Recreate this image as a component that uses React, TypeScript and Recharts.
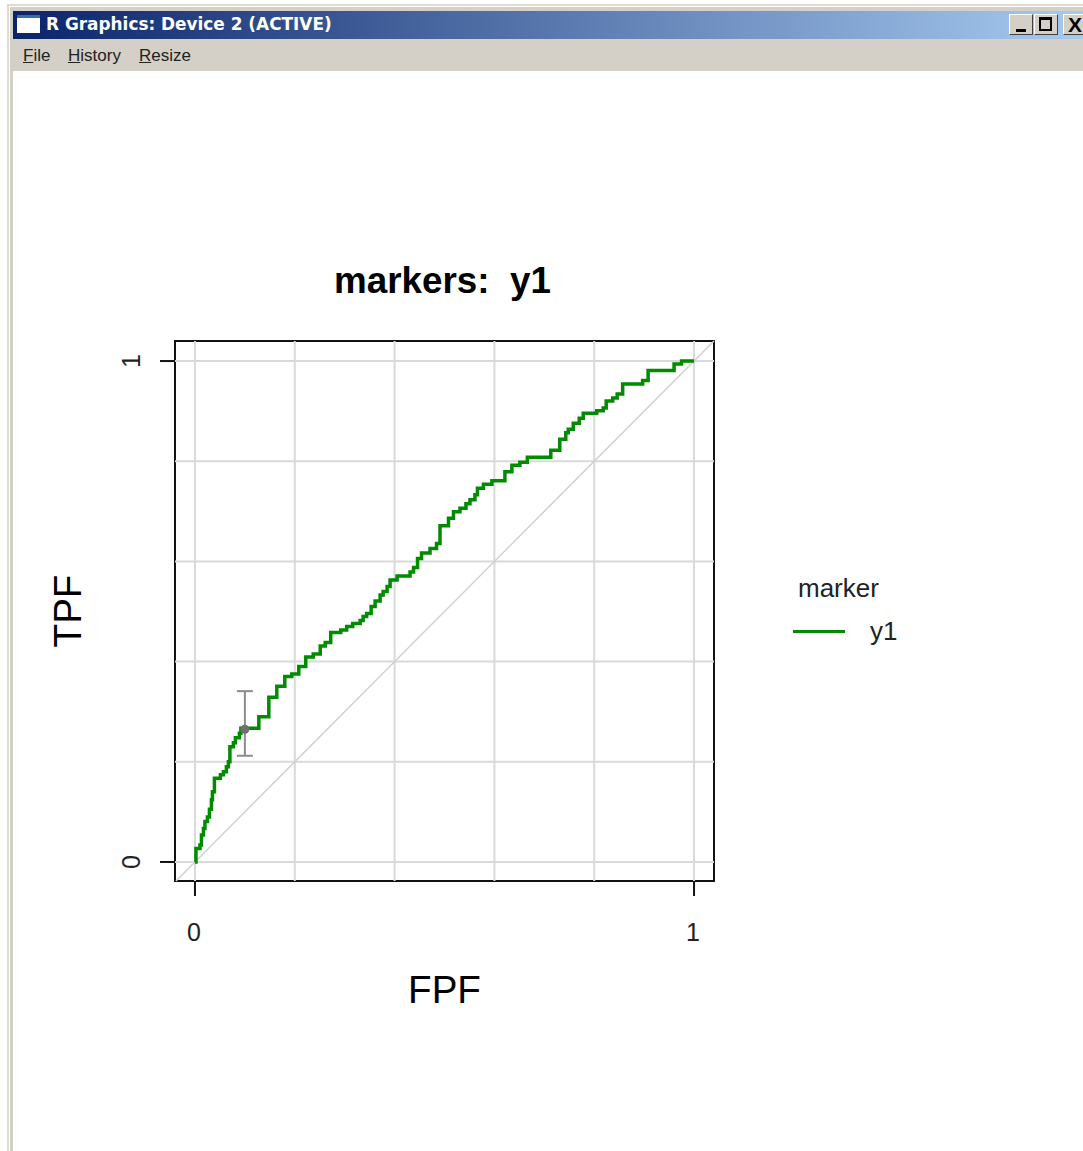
import {
  ComposedChart,
  ErrorBar,
  Label,
  Legend,
  Line,
  ReferenceArea,
  ReferenceLine,
  Scatter,
  XAxis,
  YAxis,
} from 'recharts';

const fpf = [
  0, 0.002, 0.01, 0.013, 0.017, 0.02, 0.025, 0.029, 0.033, 0.035, 0.039, 0.051, 0.057, 0.063,
  0.067, 0.07, 0.077, 0.081, 0.089, 0.092, 0.128, 0.148, 0.164, 0.18, 0.194, 0.208, 0.222, 0.237,
  0.251, 0.261, 0.272, 0.292, 0.304, 0.316, 0.331, 0.337, 0.344, 0.353, 0.361, 0.371, 0.377,
  0.385, 0.391, 0.405, 0.431, 0.438, 0.446, 0.454, 0.471, 0.484, 0.491, 0.508, 0.518, 0.531,
  0.543, 0.551, 0.561, 0.566, 0.578, 0.595, 0.621, 0.635, 0.651, 0.666, 0.713, 0.731, 0.743,
  0.748, 0.758, 0.77, 0.778, 0.805, 0.818, 0.824, 0.837, 0.846, 0.857, 0.897, 0.908, 0.96, 0.975,
  1,
];
const tpf = [
  0, 0.027, 0.034, 0.054, 0.067, 0.081, 0.09, 0.105, 0.124, 0.14, 0.167, 0.174, 0.18, 0.19, 0.2,
  0.23, 0.238, 0.248, 0.257, 0.267, 0.29, 0.329, 0.351, 0.37, 0.375, 0.39, 0.409, 0.415, 0.431,
  0.438, 0.458, 0.463, 0.47, 0.476, 0.482, 0.49, 0.496, 0.51, 0.521, 0.533, 0.54, 0.55, 0.563,
  0.571, 0.579, 0.588, 0.606, 0.617, 0.626, 0.636, 0.671, 0.686, 0.699, 0.706, 0.715, 0.723,
  0.733, 0.746, 0.754, 0.761, 0.779, 0.792, 0.798, 0.808, 0.822, 0.844, 0.857, 0.864, 0.876,
  0.886, 0.896, 0.901, 0.906, 0.92, 0.926, 0.934, 0.954, 0.961, 0.981, 0.994, 1, 1,
];
const gridValues = [0, 0.2, 0.4, 0.6, 0.8, 1];
const axisTicks = [0, 1];
const domain = [-0.04, 1.04];
const yDomain = [-0.038, 1.04];
const ciPoint = [{ x: 0.1, y: 0.265, err: [0.053, 0.076] }];

const rocData = fpf.map((x, i) => ({ x, y: tpf[i] }));

const sans = '"Liberation Sans", Arial, sans-serif';
const chrome = '"DejaVu Sans", sans-serif';

function MarkerLegend() {
  return (
    <div style={{ fontFamily: sans, fontSize: 26, color: '#222', lineHeight: '30px' }}>
      <div style={{ marginLeft: 6 }}>marker</div>
      <div style={{ display: 'flex', alignItems: 'center', marginTop: 13 }}>
        <div style={{ width: 52, height: 3, background: '#008b00', marginLeft: 1, marginRight: 25 }} />
        y1
      </div>
    </div>
  );
}

function Menu({ first, rest, left }: { first: string; rest: string; left: number }) {
  return (
    <div style={{ position: 'absolute', left, top: 46, fontFamily: sans, fontSize: 17, color: '#222' }}>
      <span style={{ textDecoration: 'underline' }}>{first}</span>
      {rest}
    </div>
  );
}

function WindowButton({ left, children }: { left: number; children: any }) {
  return (
    <div
      style={{
        position: 'absolute',
        left,
        top: 14,
        width: 24,
        height: 21,
        background: '#d4d0c8',
        borderTop: '1px solid #fff',
        borderLeft: '1px solid #fff',
        borderRight: '1px solid #404040',
        borderBottom: '1px solid #404040',
        boxSizing: 'border-box',
        overflow: 'hidden',
      }}
    >
      {children}
    </div>
  );
}

export default function App() {
  return (
    <div style={{ position: 'absolute', left: 0, top: 0, width: 1083, height: 1151, background: '#fff', overflow: 'hidden' }}>
      {/* window frame */}
      <div style={{ position: 'absolute', left: 7, top: 4, width: 1076, height: 2, background: '#dedbd4' }} />
      <div style={{ position: 'absolute', left: 10, top: 7, width: 1073, height: 4, background: '#d4d0c8' }} />
      <div style={{ position: 'absolute', left: 7, top: 4, width: 2, height: 1147, background: '#dedbd4' }} />
      <div style={{ position: 'absolute', left: 10, top: 7, width: 3, height: 1144, background: '#d4d0c8' }} />
      <div
        style={{
          position: 'absolute',
          left: 13,
          top: 11,
          width: 1070,
          height: 28,
          background: 'linear-gradient(to right, #0a246a, #a6caf0)',
        }}
      />
      <div style={{ position: 'absolute', left: 17, top: 15, width: 23, height: 18, background: '#fff', borderTop: '3px solid #3a6ea5', boxSizing: 'border-box' }} />
      <div style={{ position: 'absolute', left: 46, top: 14, fontFamily: chrome, fontWeight: 700, fontSize: 16.9, color: '#fff', whiteSpace: 'pre' }}>
        R Graphics: Device 2 (ACTIVE)
      </div>
      <WindowButton left={1009}>
        <div style={{ position: 'absolute', left: 6, top: 14, width: 10, height: 3, background: '#000' }} />
      </WindowButton>
      <WindowButton left={1034}>
        <div style={{ position: 'absolute', left: 4, top: 2, width: 13, height: 14, border: '2px solid #000', borderTopWidth: 3, boxSizing: 'border-box' }} />
      </WindowButton>
      <WindowButton left={1063}>
        <div style={{ fontFamily: sans, fontWeight: 700, fontSize: 21, lineHeight: '19px', textAlign: 'center', color: '#000' }}>X</div>
      </WindowButton>
      <div style={{ position: 'absolute', left: 13, top: 39, width: 1070, height: 32, background: '#d4d0c8' }} />
      <Menu first="F" rest="ile" left={23} />
      <Menu first="H" rest="istory" left={68} />
      <Menu first="R" rest="esize" left={139} />

      <div
        style={{
          position: 'absolute',
          left: 334,
          top: 260,
          fontFamily: sans,
          fontWeight: 700,
          fontSize: 36.8,
          color: '#000',
          whiteSpace: 'pre',
        }}
      >
        markers:  y1
      </div>

      <div style={{ position: 'absolute', left: 0, top: 0 }}>
        <ComposedChart
          width={1083}
          height={1151}
          data={rocData}
          margin={{ left: 95, right: 369, top: 341, bottom: 130 }}
        >
          <XAxis
            type="number"
            dataKey="x"
            domain={domain}
            ticks={axisTicks}
            height={140}
            axisLine={false}
            tickLine={{ stroke: '#111', strokeWidth: 2 }}
            tickSize={15}
            tickMargin={27}
            tick={{ fontFamily: sans, fontSize: 25, fill: '#222', dx: -1 }}
          >
            <Label value="FPF" position="insideTop" offset={95} style={{ fontFamily: sans, fontSize: 38.6, fill: '#000' }} />
          </XAxis>
          <YAxis
            type="number"
            dataKey="y"
            domain={yDomain}
            ticks={axisTicks}
            width={80}
            axisLine={false}
            tickLine={{ stroke: '#111', strokeWidth: 2 }}
            tickSize={15}
            tickMargin={29}
            tick={{ fontFamily: sans, fontSize: 25, fill: '#222', angle: -90, textAnchor: 'middle' }}
          >
            <Label
              value="TPF"
              angle={-90}
              position="insideLeft"
              offset={-28}
              style={{ fontFamily: sans, fontSize: 38.6, fill: '#000', textAnchor: 'middle' }}
            />
          </YAxis>
          {gridValues.map((v) => (
            <ReferenceLine key={`h${v}`} y={v} stroke="#d9d9d9" strokeWidth={2} />
          ))}
          {gridValues.map((v) => (
            <ReferenceLine key={`v${v}`} x={v} stroke="#d9d9d9" strokeWidth={2} />
          ))}
          <ReferenceLine
            segment={[
              { x: -0.038, y: -0.038 },
              { x: 1.04, y: 1.04 },
            ]}
            stroke="#d0d0d0"
            strokeWidth={1.5}
          />
          <ReferenceArea x1={-0.04} x2={1.04} y1={-0.038} y2={1.04} fill="none" stroke="#111" strokeWidth={2} />
          <Line
            dataKey="y"
            type="stepAfter"
            stroke="#008b00"
            strokeWidth={3.5}
            dot={false}
            isAnimationActive={false}
            legendType="none"
          />
          <Scatter data={ciPoint} dataKey="y" fill="#707070" shape="circle" isAnimationActive={false} legendType="none">
            <ErrorBar dataKey="err" direction="y" width={8} stroke="#8c8c8c" strokeWidth={2} isAnimationActive={false} />
          </Scatter>
          <Legend
            layout="vertical"
            align="center"
            verticalAlign="middle"
            content={MarkerLegend}
            wrapperStyle={{ left: 792, top: 573, width: 140 }}
          />
        </ComposedChart>
      </div>
    </div>
  );
}
